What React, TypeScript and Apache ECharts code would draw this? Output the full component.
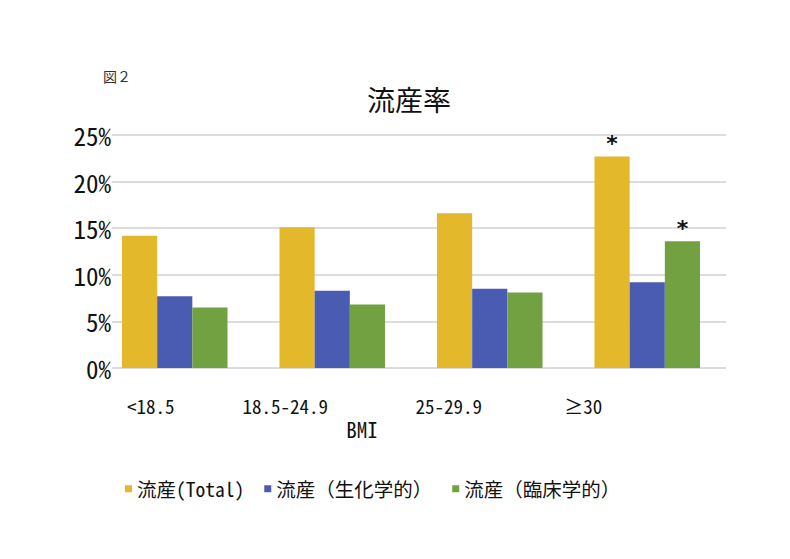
import React, { useEffect, useRef } from "react";
import * as echarts from "echarts";

const categories = ["<18.5", "18.5-24.9", "25-29.9", "≥30"];
const totalRate = [14.2, 15.1, 16.6, 22.7];
const biochemicalRate = [7.7, 8.3, 8.5, 9.2];
const clinicalRate = [6.5, 6.8, 8.1, 13.6];
const totalMarks = ["", "", "", "*"];
const clinicalMarks = ["", "", "", "*"];
const seriesNames = ["流産(Total)", "流産（生化学的）", "流産（臨床学的）"];
const yTicks = [0, 5, 10, 15, 20, 25];

const JP = "'Noto Sans Mono CJK JP', 'Noto Sans CJK JP', 'DejaVu Sans Mono', monospace";

export default function App() {
  const ref = useRef<HTMLDivElement>(null);
  useEffect(() => {
    if (!ref.current) return;
    const chart = echarts.init(ref.current, null, { renderer: "svg" });
    const starLabel = (marks: string[]) => ({
      show: true,
      position: "top",
      distance: 2,
      color: "#111",
      fontSize: 22,
      fontWeight: "bold",
      fontFamily: "DejaVu Sans, sans-serif",
      formatter: (p: any) => marks[p.dataIndex],
    });
    const rich = (pad: number) => ({
      fontSize: 19,
      fontFamily: JP,
      color: "#111",
      padding: [0, pad, 0, 0],
    });
    chart.setOption({
      animation: false,
      backgroundColor: "#ffffff",
      title: [
        {
          text: "流産率",
          left: 404,
          top: 80,
          textAlign: "center",
          textStyle: { fontSize: 28, fontWeight: 500, color: "#111", fontFamily: JP },
        },
        {
          text: "図２",
          left: 98,
          top: 64,
          textStyle: { fontSize: 14, fontWeight: "normal", color: "#333", fontFamily: JP },
        },
      ],
      legend: {
        top: 474,
        left: 120,
        itemWidth: 7,
        itemHeight: 7,
        itemGap: 20,
        icon: "rect",
        textStyle: { fontSize: 19.5, color: "#111", fontFamily: JP },
        data: seriesNames,
      },
      grid: { left: 96, right: 64, top: 135, bottom: 191, containLabel: false },
      xAxis: {
        type: "category",
        data: categories,
        axisLine: { show: false },
        axisTick: { show: false },
        axisLabel: {
          interval: 0,
          hideOverlap: false,
          margin: 28,
          fontSize: 19,
          color: "#111",
          fontFamily: JP,
          formatter: (v: string, i: number) => `{p${i}|${v}}`,
          rich: {
            p0: rich(48),
            p1: rich(94),
            p2: rich(82),
            p3: rich(128),
          },
        },
        name: "BMI",
        nameLocation: "middle",
        nameGap: 50,
        nameTextStyle: { fontSize: 21, color: "#111", fontFamily: JP, padding: [0, 98, 0, 0] },
      },
      yAxis: {
        type: "value",
        min: 0,
        max: 25,
        interval: 5,
        axisLine: { show: false },
        axisTick: { show: false },
        splitLine: { show: true, lineStyle: { color: "#d0d0d0", width: 1.5 } },
        axisLabel: {
          margin: -16,
          fontSize: 25,
          color: "#111",
          fontFamily: JP,
          backgroundColor: "#ffffff",
          padding: [0, 1, 0, 0],
          formatter: (v: number) => (yTicks.includes(v) ? `${v}%` : ""),
        },
      },
      series: [
        {
          name: seriesNames[0],
          type: "bar",
          data: totalRate,
          barGap: "0%",
          barCategoryGap: "33%",
          itemStyle: { color: "#E3B82A" },
          label: starLabel(totalMarks),
        },
        {
          name: seriesNames[1],
          type: "bar",
          data: biochemicalRate,
          itemStyle: { color: "#4A5CB2" },
        },
        {
          name: seriesNames[2],
          type: "bar",
          data: clinicalRate,
          itemStyle: { color: "#72A141" },
          label: starLabel(clinicalMarks),
        },
      ],
    });
    return () => chart.dispose();
  }, []);
  return (
    <div
      ref={ref}
      style={{ position: "fixed", left: 0, top: 0, width: 790, height: 559, background: "#fff" }}
    />
  );
}
